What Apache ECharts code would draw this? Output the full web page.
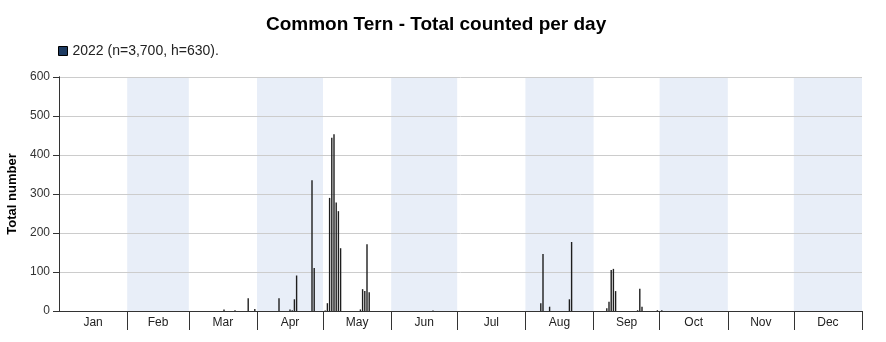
<!DOCTYPE html>
<html>
<head>
<meta charset="utf-8">
<script src="https://cdn.jsdelivr.net/npm/echarts@6/dist/echarts.min.js"></script>
<style>
  html, body { margin: 0; padding: 0; background: #fff; }
  #chart { width: 886px; height: 342px; }
</style>
</head>
<body>
<div id="chart"></div>
<script>
// Day of year (0 = 1 Jan) and birds counted that day, 2022
const days   = [75, 80, 86, 89, 100, 105, 106, 107, 108, 115, 116, 121, 122, 123, 124, 125, 126, 127, 128,
                137, 138, 139, 140, 141, 170, 219, 220, 223, 232, 233, 249, 250, 251, 252, 253, 263, 264, 265, 272, 274];
const counts = [4, 2, 33, 5, 33, 4, 2, 30, 91, 335, 110, 1, 20, 290, 444, 453, 278, 256, 161,
                4, 56, 51, 171, 48, 1, 20, 146, 11, 30, 177, 7, 24, 105, 108, 51, 2, 57, 11, 2, 2];

const monthNames  = ['Jan', 'Feb', 'Mar', 'Apr', 'May', 'Jun', 'Jul', 'Aug', 'Sep', 'Oct', 'Nov', 'Dec'];
const monthLength = [31, 28, 31, 30, 31, 30, 31, 31, 30, 31, 30, 31];
const yTicks = [0, 100, 200, 300, 400, 500, 600];
const seriesName = '2022 (n=3,700, h=630).';

// month boundaries and centres on the day-of-year axis
const monthStart = [];
let acc = 0;
monthLength.forEach(function (len) { monthStart.push(acc); acc += len; });
const monthEnds = monthStart.slice(1).concat([365]);
const monthMids = monthStart.map(function (s, i) { return s + monthLength[i] / 2; });

// every other month gets a pale band
const bands = [];
for (let i = 1; i < 12; i += 2) {
  bands.push([{ xAxis: monthStart[i] }, { xAxis: monthEnds[i] }]);
}

const frameLine = { show: true, lineStyle: { color: '#333', width: 1 } };

const chart = echarts.init(document.getElementById('chart'), null, { renderer: 'canvas' });
chart.setOption({
  animation: false,
  textStyle: { fontFamily: 'Liberation Sans, Arial, sans-serif' },
  title: {
    text: 'Common Tern - Total counted per day',
    left: 261, top: 10,
    textStyle: { fontSize: 19, fontWeight: 'bold', color: '#000', fontFamily: 'Liberation Sans, Arial, sans-serif' }
  },
  legend: {
    left: 53, top: 39,
    itemWidth: 9, itemHeight: 9, itemGap: 10,
    icon: 'rect',
    data: [{ name: seriesName, itemStyle: { color: '#1d3b62', borderColor: '#000', borderWidth: 1 } }],
    textStyle: { fontSize: 14, color: '#222', padding: [0, 0, 0, 0] }
  },
  grid: { left: 59, right: 24, top: 77, bottom: 31, show: false, containLabel: false, outerBoundsMode: 'none' },
  xAxis: [
    {
      type: 'value', min: 0, max: 365, z: 2,
      axisLine: frameLine,
      splitLine: { show: false },
      axisTick: {
        show: true, customValues: monthEnds, length: 19,
        lineStyle: { color: '#333', width: 1 }
      },
      axisLabel: {
        customValues: monthMids, margin: 6, fontSize: 12, color: '#222',
        formatter: function (v) {
          const idx = monthMids.indexOf(v);
          return idx >= 0 ? monthNames[idx] : '';
        }
      }
    },
    {
      // top edge of the plot frame
      type: 'value', min: 0, max: 365, position: 'top', z: 2,
      axisLine: frameLine, axisTick: { show: false }, axisLabel: { show: false }, splitLine: { show: false }
    }
  ],
  yAxis: [
    {
      type: 'value', min: yTicks[0], max: yTicks[yTicks.length - 1], interval: 100, z: 2,
      name: 'Total number', nameLocation: 'middle', nameGap: 36,
      nameTextStyle: { fontSize: 13, fontWeight: 'bold', color: '#000' },
      axisLine: frameLine,
      axisTick: { show: true, length: 6, lineStyle: { color: '#333' } },
      axisLabel: { fontSize: 12, color: '#333', margin: 9 },
      splitLine: { show: true, lineStyle: { color: '#cccccc', width: 1 } }
    },
    {
      // right edge of the plot frame
      type: 'value', min: yTicks[0], max: yTicks[yTicks.length - 1], interval: 100, position: 'right', z: 2,
      axisLine: frameLine, axisTick: { show: false }, axisLabel: { show: false }, splitLine: { show: false }
    }
  ],
  series: [
    {
      name: 'bands', type: 'line', data: [], z: 1, silent: true,
      markArea: { silent: true, itemStyle: { color: '#e8eef8' }, data: bands }
    },
    {
      name: seriesName, type: 'bar', z: 3,
      barWidth: 1.4,
      itemStyle: { color: '#1e1e1e' },
      data: days.map(function (d, i) { return [d, counts[i]]; })
    }
  ]
});
</script>
</body>
</html>
